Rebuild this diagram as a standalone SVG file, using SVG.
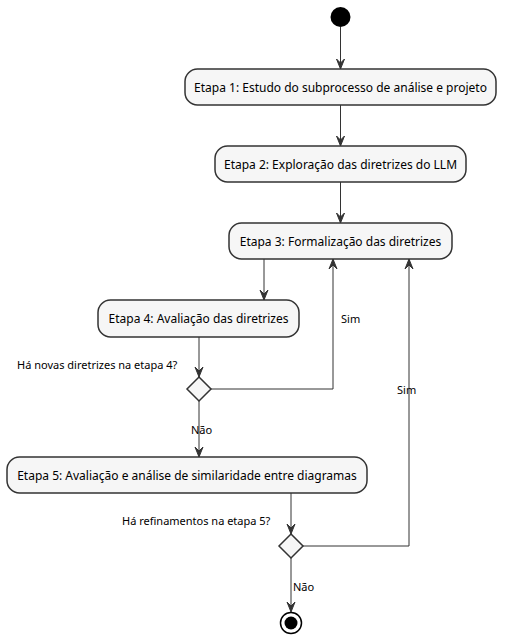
<svg xmlns="http://www.w3.org/2000/svg" width="505" height="644" viewBox="0 0 505 644">
<style>
.box{fill:#F6F6F6;stroke:#333333;stroke-width:1.5}
.dia{fill:#F6F6F6;stroke:#333333;stroke-width:1.5}
.t{font-family:"Noto Sans",sans-serif;font-size:12px;fill:#000;text-anchor:middle}
.l{font-family:"Noto Sans",sans-serif;font-size:11px;fill:#000}
.c{fill:none;stroke:#333333;stroke-width:1}
.ah{fill:#333333;stroke:#333333;stroke-width:1}
</style>
<rect width="505" height="644" fill="#FFFFFF"/>
<g id="start"><circle cx="340.5" cy="17" r="10" fill="#000000"/></g>
<g id="n1"><rect class="box" x="185" y="69" width="311" height="36" rx="12.5"/><text class="t" x="340.5" y="91.5">Etapa 1: Estudo do subprocesso de análise e projeto</text></g>
<g id="n2"><rect class="box" x="215" y="146" width="251" height="36" rx="12.5"/><text class="t" x="340.5" y="168.5">Etapa 2: Exploração das diretrizes do LLM</text></g>
<g id="n3"><rect class="box" x="229" y="223" width="223" height="36" rx="12.5"/><text class="t" x="340.5" y="245.5">Etapa 3: Formalização das diretrizes</text></g>
<g id="n4"><rect class="box" x="98" y="300" width="201" height="37" rx="12.5"/><text class="t" x="198.5" y="322.5">Etapa 4: Avaliação das diretrizes</text></g>
<g id="d1"><polygon class="dia" points="199,377 211,389 199,401 187,389"/><text class="l" x="17" y="369">Há novas diretrizes na etapa 4?</text></g>
<g id="n5"><rect class="box" x="7" y="457" width="360" height="36" rx="12.5"/><text class="t" x="187" y="479.5">Etapa 5: Avaliação e análise de similaridade entre diagramas</text></g>
<g id="d2"><polygon class="dia" points="291,534 303,546 291,558 279,546"/><text class="l" x="122" y="525">Há refinamentos na etapa 5?</text></g>
<g id="end"><circle cx="291" cy="623" r="10.5" fill="none" stroke="#000000" stroke-width="1.5"/><circle cx="291" cy="623" r="6.5" fill="#000000"/></g>
<g id="connectors">
<path class="c" d="M340.5,27 V69"/><polygon class="ah" points="336.5,59 340.5,69 344.5,59 340.5,63"/>
<path class="c" d="M340.5,105 V146"/><polygon class="ah" points="336.5,136 340.5,146 344.5,136 340.5,140"/>
<path class="c" d="M340.5,182 V223"/><polygon class="ah" points="336.5,213 340.5,223 344.5,213 340.5,217"/>
<path class="c" d="M264,259 V300"/><polygon class="ah" points="260,290 264,300 268,290 264,294"/>
<path class="c" d="M199,337 V377"/><polygon class="ah" points="195,367 199,377 203,367 199,371"/>
<path class="c" d="M211,389 H333 V259"/><polygon class="ah" points="329,269 333,259 337,269 333,265"/>
<text class="l" x="341" y="323">Sim</text>
<path class="c" d="M199,401 V457"/><polygon class="ah" points="195,447 199,457 203,447 199,451"/>
<text class="l" x="191" y="434">Não</text>
<path class="c" d="M291,493 V534"/><polygon class="ah" points="287,524 291,534 295,524 291,528"/>
<path class="c" d="M303,546 H409 V259"/><polygon class="ah" points="405,269 409,259 413,269 409,265"/>
<text class="l" x="397" y="394">Sim</text>
<path class="c" d="M291,558 V612"/><polygon class="ah" points="287,602 291,612 295,602 291,606"/>
<text class="l" x="293" y="591">Não</text>
</g>
</svg>
